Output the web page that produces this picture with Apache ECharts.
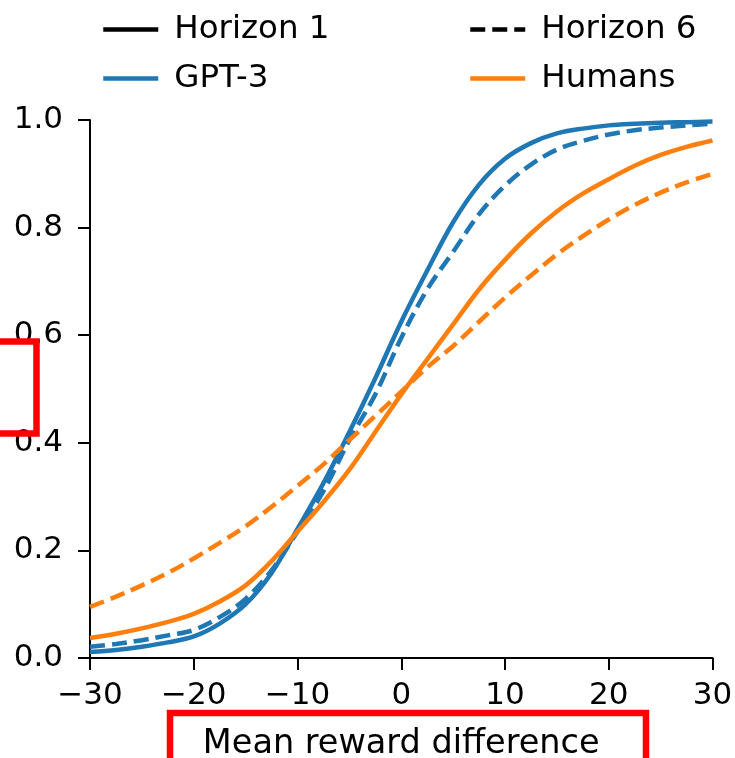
<!DOCTYPE html>
<html>
<head>
<meta charset="utf-8">
<script src="https://cdn.jsdelivr.net/npm/echarts@6/dist/echarts.min.js"></script>
<style>
  html, body { margin: 0; padding: 0; background: #fff; }
  #chart { width: 735px; height: 758px; }
</style>
</head>
<body>
<div id="chart"></div>
<script>
// Sample positions along the mean reward difference axis
const rewardDiff = [-30, -27.5, -25, -22.5, -20, -17.5, -15, -12.5, -10, -7.5, -5, -2.5, 0, 2.5, 5, 7.5, 10, 12.5, 15, 17.5, 20, 22.5, 25, 27.5, 30];

// Fitted choice probabilities
const gpt3Horizon1   = [0.011, 0.015, 0.021, 0.029, 0.040, 0.064, 0.100, 0.158, 0.240, 0.325, 0.420, 0.520, 0.625, 0.720, 0.810, 0.880, 0.928, 0.957, 0.975, 0.984, 0.990, 0.993, 0.995, 0.996, 0.997];
const gpt3Horizon6   = [0.021, 0.026, 0.033, 0.042, 0.052, 0.076, 0.110, 0.163, 0.235, 0.310, 0.405, 0.490, 0.595, 0.685, 0.755, 0.825, 0.878, 0.917, 0.945, 0.961, 0.973, 0.981, 0.986, 0.990, 0.993];
const humansHorizon1 = [0.037, 0.045, 0.055, 0.067, 0.082, 0.105, 0.135, 0.180, 0.235, 0.290, 0.350, 0.420, 0.490, 0.555, 0.620, 0.685, 0.740, 0.789, 0.830, 0.863, 0.890, 0.915, 0.935, 0.950, 0.962];
const humansHorizon6 = [0.095, 0.114, 0.135, 0.158, 0.185, 0.214, 0.245, 0.281, 0.320, 0.360, 0.405, 0.450, 0.495, 0.540, 0.580, 0.625, 0.670, 0.711, 0.750, 0.784, 0.815, 0.842, 0.865, 0.884, 0.900];

const xTicks = { min: -30, max: 30, step: 10 };
const yTicks = { min: 0, max: 1, step: 0.2 };

const BLUE = '#1f77b4';
const ORANGE = '#ff7f0e';
const FONT = 'DejaVu Sans';
const FS = 31;
const LW = 4.5;
const DASH = [15, 7];

const pairs = ys => rewardDiff.map((x, i) => [x, ys[i]]);

function curve(name, ys, color, dashed) {
  return {
    name: name,
    type: 'line',
    data: pairs(ys),
    smooth: 0.35,
    symbol: 'none',
    silent: true,
    lineStyle: { color: color, width: LW, type: dashed ? DASH : 'solid', cap: 'butt' },
    itemStyle: { color: color },
    z: 3
  };
}

// Legend-only entries (style keys); the marker dot is hidden
function key(name, color, dashed) {
  return {
    name: name,
    type: 'line',
    data: [],
    symbol: 'none',
    lineStyle: { color: color, width: LW, type: dashed ? DASH : 'solid' },
    itemStyle: { color: color, opacity: 0 }
  };
}

const minus = v => (v < 0 ? '\u2212' + Math.abs(v) : String(v));

const legendCommon = {
  top: 13, orient: 'vertical', padding: 0,
  itemWidth: 55, itemHeight: 20, itemGap: 16,
  selectedMode: false,
  lineStyle: { width: LW, type: 'inherit' },
  itemStyle: { opacity: 0 },
  textStyle: { fontFamily: FONT, fontSize: 32.5, color: '#000', padding: [0, 0, 0, 11] }
};

const chart = echarts.init(document.getElementById('chart'), null, { renderer: 'canvas' });

chart.setOption({
  animation: false,
  backgroundColor: '#ffffff',
  textStyle: { fontFamily: FONT },
  grid: {
    left: 90, right: 22.5, top: 120, bottom: 100,
    containLabel: false,
    outerBoundsMode: 'none'
  },
  legend: [
    Object.assign({}, legendCommon, { left: 101, data: ['Horizon 1', 'GPT-3'] }),
    Object.assign({}, legendCommon, { left: 468, data: ['Horizon 6', 'Humans'] })
  ],
  xAxis: {
    type: 'value',
    min: xTicks.min, max: xTicks.max, interval: xTicks.step,
    name: 'Mean reward difference',
    nameLocation: 'middle',
    nameGap: 69,
    nameTextStyle: { fontFamily: FONT, fontSize: 33.5, color: '#000' },
    axisLine: { show: true, onZero: false, lineStyle: { color: '#000', width: 2 } },
    axisTick: { show: true, length: 12, lineStyle: { color: '#000', width: 2 } },
    axisLabel: { fontFamily: FONT, fontSize: FS, color: '#000', margin: 22, formatter: minus },
    splitLine: { show: false }
  },
  yAxis: {
    type: 'value',
    min: yTicks.min, max: yTicks.max, interval: yTicks.step,
    axisLine: { show: true, onZero: false, lineStyle: { color: '#000', width: 2 } },
    axisTick: { show: true, length: 12, lineStyle: { color: '#000', width: 2 } },
    axisLabel: { fontFamily: FONT, fontSize: FS, color: '#000', margin: 27, formatter: v => v.toFixed(1) },
    splitLine: { show: false }
  },
  series: [
    curve('GPT-3, horizon 1', gpt3Horizon1, BLUE, false),
    curve('GPT-3, horizon 6', gpt3Horizon6, BLUE, true),
    curve('Humans, horizon 1', humansHorizon1, ORANGE, false),
    curve('Humans, horizon 6', humansHorizon6, ORANGE, true),
    key('Horizon 1', '#000', false),
    key('Horizon 6', '#000', true),
    key('GPT-3', BLUE, false),
    key('Humans', ORANGE, false)
  ],
  graphic: [
    {
      type: 'rect', silent: true, z: 100,
      shape: { x: -5, y: 341.5, width: 41.5, height: 92 },
      style: { fill: null, stroke: '#ff0000', lineWidth: 6.5 }
    },
    {
      type: 'rect', silent: true, z: 100,
      shape: { x: 170, y: 713, width: 476, height: 60 },
      style: { fill: null, stroke: '#ff0000', lineWidth: 6.5 }
    }
  ]
});
</script>
</body>
</html>
